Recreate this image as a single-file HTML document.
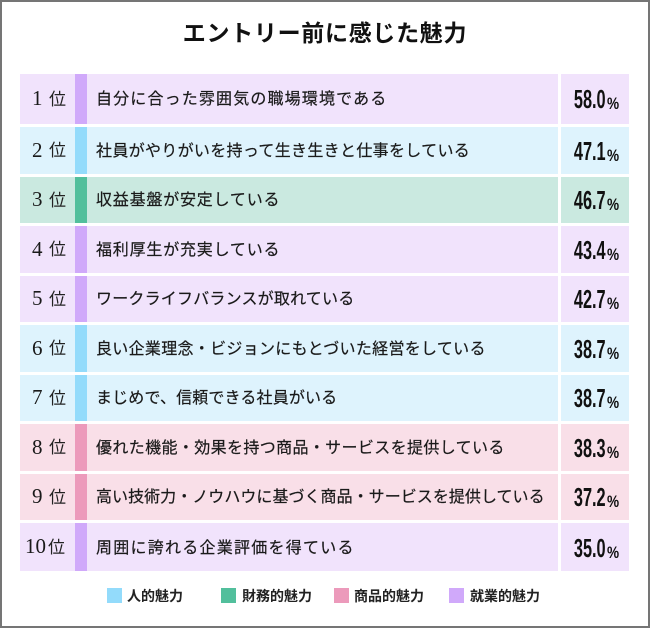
<!DOCTYPE html>
<html><head><meta charset="utf-8">
<style>
html,body{margin:0;padding:0;background:#fff;}
#pg{position:relative;width:650px;height:628px;box-sizing:border-box;border:2px solid #757575;overflow:hidden;background:#fff;}
.title{position:absolute;left:-2px;width:650px;top:20px;text-align:center;font-family:"Liberation Sans","Noto Sans CJK JP",sans-serif;font-weight:bold;font-size:23px;line-height:23px;letter-spacing:0.7px;color:#111;white-space:nowrap;}
.row{position:absolute;left:18px;width:609px;}
.rk,.bar,.lb,.vl{position:absolute;top:0;height:100%;}
.rk{left:0;width:55px;}
.bar{left:55px;width:12px;}
.lb{left:67px;width:471px;}
.vl{left:541px;width:68px;}
.dg{position:absolute;font-family:"Liberation Serif",serif;font-size:21px;line-height:21px;top:calc(50% - 10.7px);color:#1a1a1a;white-space:nowrap;}
.i{position:absolute;font-family:"Liberation Sans","Noto Sans CJK JP",sans-serif;font-size:17px;line-height:17px;top:calc(50% - 8px);color:#222;}
.tx{position:absolute;left:76px;font-family:"Liberation Sans","Noto Sans CJK JP",sans-serif;font-size:16px;line-height:16px;top:calc(50% - 6.5px);color:#1a1a1a;white-space:nowrap;-webkit-text-stroke:0.2px #1a1a1a;}
.num{position:absolute;right:23px;font-family:"Liberation Sans",sans-serif;font-weight:bold;font-size:25.5px;line-height:25.5px;top:calc(50% - 10.5px);transform:scaleX(0.64);transform-origin:right center;color:#111;white-space:nowrap;}
.pc{position:absolute;left:587px;font-family:"Liberation Sans",sans-serif;font-weight:bold;font-size:17px;line-height:17px;top:calc(50% - 3.4px);transform:scaleX(0.8);transform-origin:left center;color:#111;}
.P .rk,.P .lb,.P .vl{background:#f1e3fc;} .P .bar{background:#d0a9fa;}
.B .rk,.B .lb,.B .vl{background:#def3fd;} .B .bar{background:#93dbfb;}
.G .rk,.G .lb,.G .vl{background:#cae9e0;} .G .bar{background:#52bf9c;}
.K .rk,.K .lb,.K .vl{background:#f9dfe8;} .K .bar{background:#ec9abb;}
.lsq{position:absolute;top:586px;width:15px;height:15px;}
.ltx{position:absolute;top:587px;font-family:"Liberation Sans","Noto Sans CJK JP",sans-serif;font-weight:bold;font-size:14px;line-height:14px;color:#222;white-space:nowrap;}
</style></head><body>
<div id="pg">
<div class="title">エントリー前に感じた魅力</div>

<div class="row P" style="top:72px;height:49.5px;">
 <div class="rk"></div><div class="bar"></div><div class="lb"></div><div class="vl"></div>
 <span class="dg" style="left:12px;">1</span><span class="i" style="left:29px;">位</span>
 <span class="tx" style="letter-spacing:1.15px;">自分に合った雰囲気の職場環境である</span>
 <span class="num">58.0</span><span class="pc">%</span>
</div>

<div class="row B" style="top:125px;height:46.5px;">
 <div class="rk"></div><div class="bar"></div><div class="lb"></div><div class="vl"></div>
 <span class="dg" style="left:12px;">2</span><span class="i" style="left:29px;">位</span>
 <span class="tx" style="letter-spacing:0.32px;">社員がやりがいを持って生き生きと仕事をしている</span>
 <span class="num">47.1</span><span class="pc">%</span>
</div>

<div class="row G" style="top:174.5px;height:46.5px;">
 <div class="rk"></div><div class="bar"></div><div class="lb"></div><div class="vl"></div>
 <span class="dg" style="left:12px;">3</span><span class="i" style="left:29px;">位</span>
 <span class="tx" style="letter-spacing:0.8px;">収益基盤が安定している</span>
 <span class="num">46.7</span><span class="pc">%</span>
</div>

<div class="row P" style="top:224px;height:46.5px;">
 <div class="rk"></div><div class="bar"></div><div class="lb"></div><div class="vl"></div>
 <span class="dg" style="left:12px;">4</span><span class="i" style="left:29px;">位</span>
 <span class="tx" style="letter-spacing:0.8px;">福利厚生が充実している</span>
 <span class="num">43.4</span><span class="pc">%</span>
</div>

<div class="row P" style="top:273.5px;height:46.5px;">
 <div class="rk"></div><div class="bar"></div><div class="lb"></div><div class="vl"></div>
 <span class="dg" style="left:12px;">5</span><span class="i" style="left:29px;">位</span>
 <span class="tx" style="letter-spacing:0.2px;">ワークライフバランスが取れている</span>
 <span class="num">42.7</span><span class="pc">%</span>
</div>

<div class="row B" style="top:323px;height:46.5px;">
 <div class="rk"></div><div class="bar"></div><div class="lb"></div><div class="vl"></div>
 <span class="dg" style="left:12px;">6</span><span class="i" style="left:29px;">位</span>
 <span class="tx" style="letter-spacing:0.3px;">良い企業理念・ビジョンにもとづいた経営をしている</span>
 <span class="num">38.7</span><span class="pc">%</span>
</div>

<div class="row B" style="top:372.5px;height:46.5px;">
 <div class="rk"></div><div class="bar"></div><div class="lb"></div><div class="vl"></div>
 <span class="dg" style="left:12px;">7</span><span class="i" style="left:29px;">位</span>
 <span class="tx" style="letter-spacing:0.15px;">まじめで、信頼できる社員がいる</span>
 <span class="num">38.7</span><span class="pc">%</span>
</div>

<div class="row K" style="top:422px;height:46.5px;">
 <div class="rk"></div><div class="bar"></div><div class="lb"></div><div class="vl"></div>
 <span class="dg" style="left:12px;">8</span><span class="i" style="left:29px;">位</span>
 <span class="tx" style="letter-spacing:0.37px;">優れた機能・効果を持つ商品・サービスを提供している</span>
 <span class="num">38.3</span><span class="pc">%</span>
</div>

<div class="row K" style="top:471.5px;height:46.5px;">
 <div class="rk"></div><div class="bar"></div><div class="lb"></div><div class="vl"></div>
 <span class="dg" style="left:12px;">9</span><span class="i" style="left:29px;">位</span>
 <span class="tx" style="letter-spacing:0.04px;">高い技術力・ノウハウに基づく商品・サービスを提供している</span>
 <span class="num">37.2</span><span class="pc">%</span>
</div>

<div class="row P" style="top:521px;height:48px;">
 <div class="rk"></div><div class="bar"></div><div class="lb"></div><div class="vl"></div>
 <span class="dg" style="left:5px;">10</span><span class="i" style="left:28px;">位</span>
 <span class="tx" style="letter-spacing:1.25px;">周囲に誇れる企業評価を得ている</span>
 <span class="num">35.0</span><span class="pc">%</span>
</div>

<div class="lsq" style="left:105px;background:#93dbfb;"></div><div class="ltx" style="left:125px;">人的魅力</div>
<div class="lsq" style="left:219px;background:#52bf9c;"></div><div class="ltx" style="left:240px;">財務的魅力</div>
<div class="lsq" style="left:332px;background:#ec9abb;"></div><div class="ltx" style="left:352px;">商品的魅力</div>
<div class="lsq" style="left:447px;background:#d0a9fa;"></div><div class="ltx" style="left:468px;">就業的魅力</div>
</div>
</body></html>
